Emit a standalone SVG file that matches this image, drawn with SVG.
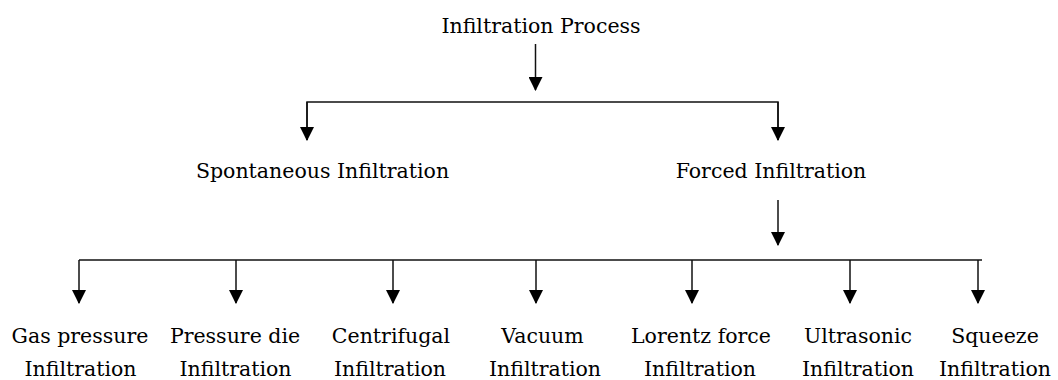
<svg xmlns="http://www.w3.org/2000/svg" width="1058" height="380" viewBox="0 0 1058 380">
<style>
text{font-family:"DejaVu Serif","Liberation Serif",serif;font-size:20.5px;fill:#000;text-anchor:middle}
.c{stroke:#111;stroke-width:1.5;fill:none}
.a{marker-end:url(#ah)}
</style>
<defs>
<marker id="ah" markerUnits="userSpaceOnUse" markerWidth="14" markerHeight="14" refX="12" refY="6.5" orient="auto" viewBox="0 0 13 13">
<path d="M0,0 L13,6.5 L0,13 z" fill="#000"/>
</marker>
</defs>
<rect width="1058" height="380" fill="#fff"/>
<g id="connectors">
<line class="c a" x1="535.5" y1="44" x2="535.5" y2="90"/>
<polyline class="c" points="307,140 307,102 778,102 778,140"/>
<line class="c a" x1="307" y1="102" x2="307" y2="140"/>
<line class="c a" x1="778" y1="102" x2="778" y2="140"/>
<line class="c a" x1="778" y1="200" x2="778" y2="245"/>
<line class="c" x1="79" y1="260" x2="982" y2="260"/>
<line class="c a" x1="79" y1="260" x2="79" y2="303"/>
<line class="c a" x1="236" y1="260" x2="236" y2="303"/>
<line class="c a" x1="393" y1="260" x2="393" y2="303"/>
<line class="c a" x1="536" y1="260" x2="536" y2="303"/>
<line class="c a" x1="692" y1="260" x2="692" y2="303"/>
<line class="c a" x1="850" y1="260" x2="850" y2="303"/>
<line class="c a" x1="978" y1="260" x2="978" y2="303"/>
</g>
<g id="root"><text x="541" y="33">Infiltration Process</text></g>
<g id="spontaneous"><text x="322.5" y="178">Spontaneous Infiltration</text></g>
<g id="forced"><text x="771" y="178">Forced Infiltration</text></g>
<g id="gas"><text x="80" y="343">Gas pressure</text><text x="80.5" y="376">Infiltration</text></g>
<g id="pressuredie"><text x="235" y="343">Pressure die</text><text x="235.5" y="376">Infiltration</text></g>
<g id="centrifugal"><text x="391" y="343">Centrifugal</text><text x="390" y="376">Infiltration</text></g>
<g id="vacuum"><text x="542.5" y="343">Vacuum</text><text x="545" y="376">Infiltration</text></g>
<g id="lorentz"><text x="701" y="343">Lorentz force</text><text x="700" y="376">Infiltration</text></g>
<g id="ultrasonic"><text x="858" y="343">Ultrasonic</text><text x="858" y="376">Infiltration</text></g>
<g id="squeeze"><text x="995" y="343">Squeeze</text><text x="995" y="376">Infiltration</text></g>
</svg>
